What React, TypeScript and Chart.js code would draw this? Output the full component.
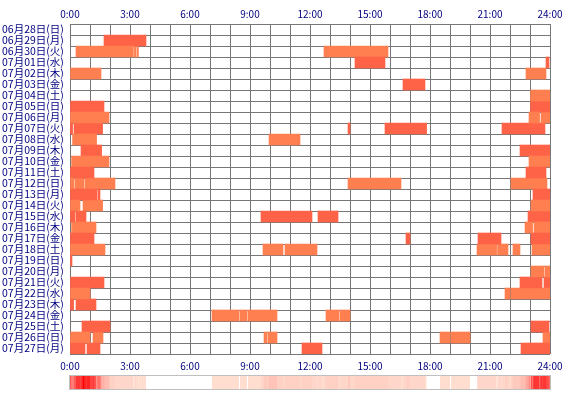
import React, { useEffect, useRef } from "react";
import { Chart, registerables } from "chart.js";

Chart.register(...registerables);

// One row per day (Sun 6/28 .. Mon 7/27)
const dayLabels = [
  "06月28日(日)", "06月29日(月)", "06月30日(火)", "07月01日(水)", "07月02日(木)",
  "07月03日(金)", "07月04日(土)", "07月05日(日)", "07月06日(月)", "07月07日(火)",
  "07月08日(水)", "07月09日(木)", "07月10日(金)", "07月11日(土)", "07月12日(日)",
  "07月13日(月)", "07月14日(火)", "07月15日(水)", "07月16日(木)", "07月17日(金)",
  "07月18日(土)", "07月19日(日)", "07月20日(月)", "07月21日(火)", "07月22日(水)",
  "07月23日(木)", "07月24日(金)", "07月25日(土)", "07月26日(日)", "07月27日(月)",
];

// Sleep periods per day as [start, end] in hours of the day
const sleepPeriods: [number, number][][] = [
  [],
  [[1.7, 3.8]],
  [[0.3, 3.17], [3.22, 3.3], [3.35, 3.42], [12.7, 15.9]],
  [[14.25, 15.75], [23.8, 23.95]],
  [[0, 1.55], [22.8, 23.8]],
  [[16.65, 17.75]],
  [[23.03, 24]],
  [[0, 1.7], [23.03, 24]],
  [[0, 1.95], [22.95, 23.48], [23.55, 24]],
  [[0, 0.13], [0.2, 1.63], [13.9, 14.0], [15.75, 17.83], [21.6, 23.75]],
  [[0.13, 1.33], [9.95, 11.5]],
  [[0.55, 1.58], [22.5, 24]],
  [[0.08, 1.95], [22.95, 24]],
  [[0, 1.2], [22.8, 23.8]],
  [[0, 0.2], [0.25, 0.7], [0.75, 2.25], [13.9, 16.55], [22.05, 23.85]],
  [[0, 1.35], [1.4, 1.5], [23.15, 24]],
  [[0, 0.5], [0.65, 1.63], [23.05, 24]],
  [[0, 0.25], [0.3, 0.8], [9.55, 12.1], [12.4, 13.4], [22.9, 24]],
  [[0.08, 0.13], [0.15, 1.3], [22.75, 23.13], [23.2, 24]],
  [[0, 1.2], [16.8, 17.0], [20.4, 21.55], [23.05, 24]],
  [[0, 1.75], [9.65, 10.65], [10.75, 12.35], [20.35, 21.33], [21.38, 21.9], [22.15, 22.5], [23.1, 24]],
  [[0, 0.1]],
  [[23.05, 23.7], [23.75, 24]],
  [[0, 1.7], [22.5, 23.6], [23.7, 24]],
  [[0, 1.0], [21.75, 22.0], [22.05, 24]],
  [[0, 0.18], [0.3, 1.3]],
  [[7.1, 8.45], [8.5, 8.85], [8.9, 10.35], [12.8, 13.45], [13.5, 14.0]],
  [[0.6, 2.0], [23.05, 23.95]],
  [[0, 1.0], [1.15, 1.65], [9.7, 9.85], [9.9, 10.35], [18.5, 19.0], [19.05, 20.0], [23.65, 24]],
  [[0, 0.75], [0.85, 1.5], [11.6, 12.6], [22.55, 24]],
];

const hourTicks = [0, 3, 6, 9, 12, 15, 18, 21, 24];

const ROW_COLORS = ["#FF7F50", "#FF6347"];
const TEXT_COLOR = "#000080";
const GRID_COLOR = "#777777";
const TICK_FONT = { family: "'Noto Sans CJK JP', sans-serif", size: 10 };
const DAY_FONT = { family: "'Noto Sans CJK JP', sans-serif", size: 10.5 };

// Per-minute count of days asleep, used for the summary strip under the chart
function minuteCounts(): number[] {
  const counts: number[] = [];
  for (let m = 0; m < 1440; m++) {
    const h = (m + 0.5) / 60;
    let c = 0;
    for (const day of sleepPeriods) {
      if (day.some(([s, e]) => h >= s && h < e)) c++;
    }
    counts.push(c);
  }
  return counts;
}

function heatColor(c: number, max: number): string {
  if (c <= 0) return "#FFFFFF";
  const f = Math.pow(1 - c / max, 0.6);
  return `rgb(255,${Math.round(228 * f)},${Math.round(214 * f)})`;
}

const heatStrip = {
  id: "heatStrip",
  afterDraw(chart: any) {
    const xs = chart.scales.x;
    const ctx = chart.ctx;
    const top = chart.chartArea.bottom + 22;
    const h = 13;
    const counts = minuteCounts();
    const max = Math.max(...counts);
    ctx.save();
    let m = 0;
    while (m < 1440) {
      let n = m;
      while (n + 1 < 1440 && counts[n + 1] === counts[m]) n++;
      const x0 = xs.getPixelForValue(m / 60);
      const x1 = xs.getPixelForValue((n + 1) / 60);
      ctx.fillStyle = heatColor(counts[m], max);
      ctx.fillRect(x0, top, x1 - x0, h);
      m = n + 1;
    }
    ctx.strokeStyle = "#C0C0C0";
    ctx.lineWidth = 1;
    const l = xs.getPixelForValue(0);
    const r = xs.getPixelForValue(24);
    ctx.strokeRect(Math.round(l) - 0.5, top - 0.5, Math.round(r - l) + 1, h + 1);
    ctx.restore();
  },
};

function timeTick(v: any) {
  return hourTicks.includes(Number(v)) ? `${v}:00` : "";
}

export default function App() {
  const canvasRef = useRef<HTMLCanvasElement | null>(null);

  useEffect(() => {
    if (!canvasRef.current) return;
    const maxSegs = Math.max(...sleepPeriods.map((d) => d.length));
    const datasets = [];
    for (let k = 0; k < maxSegs; k++) {
      datasets.push({
        data: sleepPeriods.map((d) => (d[k] ? d[k] : null)),
        backgroundColor: (ctx: any) => ROW_COLORS[ctx.dataIndex % 2],
        borderWidth: 0,
        borderSkipped: false,
        barPercentage: 1,
        categoryPercentage: 1,
        grouped: false,
        xAxisID: "x",
      });
    }

    const timeAxis = (position: "top" | "bottom", height: number, pad: number, grid: boolean) => ({
      type: "linear" as const,
      position,
      min: 0,
      max: 24,
      z: 1,
      grid: { display: grid, color: GRID_COLOR, lineWidth: 1, drawTicks: false },
      border: { display: false },
      ticks: {
        stepSize: 1,
        autoSkip: false,
        maxRotation: 0,
        color: TEXT_COLOR,
        font: TICK_FONT,
        padding: pad,
        callback: timeTick,
      },
      afterFit: (s: any) => {
        s.height = height;
      },
    });

    const chart = new Chart(canvasRef.current, {
      type: "bar",
      data: { labels: dayLabels, datasets: datasets as any },
      options: {
        indexAxis: "y",
        responsive: false,
        animation: false,
        layout: { padding: { left: 2, right: 20, top: 0, bottom: 0 } },
        plugins: { legend: { display: false }, tooltip: { enabled: false } },
        scales: {
          x: timeAxis("top", 24, 4, true),
          x2: timeAxis("bottom", 46, 6, false),
          y: {
            type: "category",
            position: "left",
            z: 1,
            grid: { color: GRID_COLOR, lineWidth: 1, offset: true, drawTicks: false },
            border: { display: false },
            ticks: {
              autoSkip: false,
              color: TEXT_COLOR,
              font: DAY_FONT,
              crossAlign: "far",
              padding: 2,
            },
            afterFit: (s: any) => {
              s.width = 68;
            },
          },
        } as any,
      },
      plugins: [heatStrip],
    });
    return () => chart.destroy();
  }, []);

  return (
    <div style={{ position: "fixed", left: 0, top: 0, width: 570, height: 400, background: "#fff" }}>
      <canvas ref={canvasRef} width={570} height={400} />
    </div>
  );
}
